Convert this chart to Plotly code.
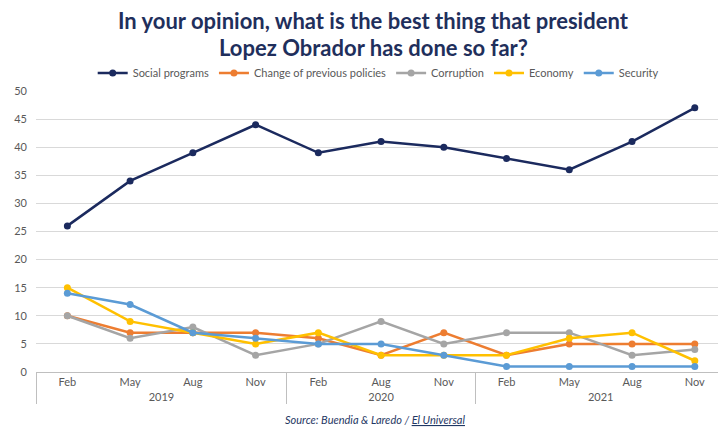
import plotly.graph_objects as go

years = ["2019"] * 4 + ["2020"] * 3 + ["2021"] * 4
months = ["Feb", "May", "Aug", "Nov", "Feb", "Aug", "Nov", "Feb", "May", "Aug", "Nov"]

social_programs = [26, 34, 39, 44, 39, 41, 40, 38, 36, 41, 47]
change_policies = [10, 7, 7, 7, 6, 3, 7, 3, 5, 5, 5]
corruption = [10, 6, 8, 3, 5, 9, 5, 7, 7, 3, 4]
economy = [15, 9, 7, 5, 7, 3, 3, 3, 6, 7, 2]
security = [14, 12, 7, 6, 5, 5, 3, 1, 1, 1, 1]

series = [
    ("Social programs", social_programs, "#1B2A5E"),
    ("Change of previous policies", change_policies, "#ED7D31"),
    ("Corruption", corruption, "#A5A5A5"),
    ("Economy", economy, "#FFC000"),
    ("Security", security, "#5B9BD5"),
]

title_lines = ["In your opinion, what is the best thing that president",
               "Lopez Obrador has done so far?"]

fig = go.Figure()
for name, vals, col in series:
    fig.add_trace(go.Scatter(
        x=[years, months], y=vals, name=name, mode="lines+markers",
        line=dict(color=col, width=2.5),
        marker=dict(color=col, size=7),
    ))

PLOT_TOP, PLOT_BOT = 91, 372
PLOT_L, PLOT_W = 35.6, 682.4
def py(pix):
    return (PLOT_BOT - pix) / (PLOT_BOT - PLOT_TOP)
def px(pix):
    return (pix - PLOT_L) / PLOT_W

fig.update_layout(
    width=718, height=427,
    margin=dict(l=PLOT_L, r=0, t=PLOT_TOP, b=427 - PLOT_BOT),
    paper_bgcolor="white", plot_bgcolor="white",
    font=dict(family="Lato", color="#595959", size=11),
    legend=dict(orientation="h", x=px(378), xanchor="center", y=py(73), yanchor="middle",
                font=dict(size=11, color="#595959"), tracegroupgap=0),
    showlegend=True,
)
for i, line in enumerate(title_lines):
    fig.add_annotation(
        text="<b>" + line + "</b>", xref="paper", yref="paper",
        x=px(373), xanchor="center",
        y=py(20 + 27 * i), yanchor="middle", showarrow=False,
        font=dict(family="Lato", size=22, color="#1F2F5C"),
    )
fig.update_xaxes(
    type="multicategory", range=[-0.5, 10.37],
    showline=True, linecolor="#BFBFBF", linewidth=1,
    showgrid=False, showdividers=True, dividercolor="#BFBFBF", dividerwidth=1,
    tickfont=dict(size=11, color="#595959"), automargin=False, ticks="",
)
fig.update_yaxes(
    range=[0, 50], dtick=5, showgrid=True, gridcolor="#D9D9D9", gridwidth=1,
    zeroline=False, showline=False, tickfont=dict(size=11, color="#595959"),
    ticklabelstandoff=8, automargin=False,
)
fig.add_annotation(
    text="<i>Source: Buendia &amp; Laredo / <u>El Universal</u></i>",
    xref="paper", yref="paper", x=px(375), y=py(420), xanchor="center", yanchor="middle",
    showarrow=False, font=dict(size=11, color="#1F3864"),
)

fig.write_html("out.html")
